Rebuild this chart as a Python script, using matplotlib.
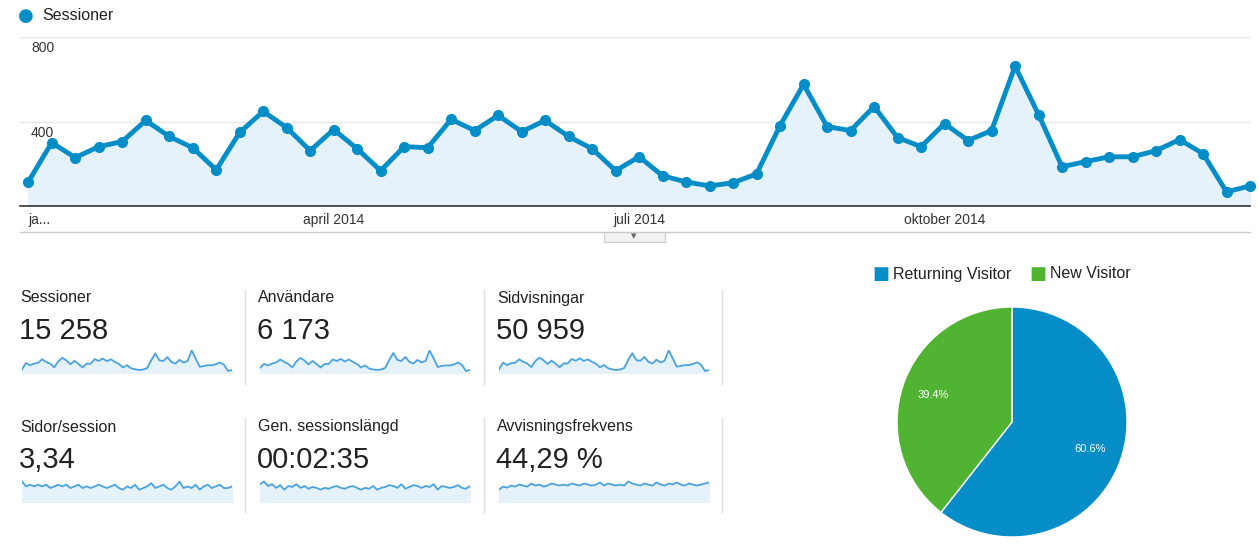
import matplotlib
matplotlib.use("Agg")
import matplotlib.pyplot as plt
from matplotlib.patches import Rectangle

plt.rcParams["font.family"] = "Liberation Sans"

sessions = [114,300,229,281,305,405,329,276,171,348,448,371,262,362,271,167,281,276,410,357,
            429,352,405,329,271,167,233,143,114,95,110,152,381,576,376,357,471,324,281,390,
            310,357,662,433,186,210,233,233,262,314,248,67,95]
tick_pos = [0, 13, 26, 39]
tick_labels = ["ja...", "april 2014", "juli 2014", "oktober 2014"]
y_ticks = [400, 800]

tile_titles = ["Sessioner", "Användare", "Sidvisningar", "Sidor/session", "Gen. sessionslängd", "Avvisningsfrekvens"]
tile_values = ["15 258", "6 173", "50 959", "3,34", "00:02:35", "44,29 %"]
users_spark = [120,200,170,210,230,290,240,200,130,250,320,270,190,260,200,130,200,200,290,260,
               300,250,290,240,200,130,170,110,90,80,90,120,280,420,280,260,340,240,210,280,
               230,260,470,310,140,160,170,170,190,230,180,60,80]
pages_spark = [400,1000,780,950,1000,1300,1080,920,600,1150,1450,1220,880,1180,900,580,930,920,1330,1170,
               1390,1150,1300,1080,900,580,780,500,400,340,380,520,1250,1850,1230,1170,1520,1070,930,1270,
               1020,1170,2100,1400,640,700,780,780,870,1030,820,250,330]
pps_spark = [3.6,3.3,3.4,3.3,3.4,3.3,3.4,3.2,3.3,3.4,3.3,3.4,3.2,3.3,3.4,3.2,3.3,3.2,3.3,3.4,
             3.3,3.2,3.3,3.4,3.2,3.1,3.3,3.2,3.4,3.1,3.2,3.3,3.5,3.2,3.3,3.4,3.2,3.1,3.3,3.6,
             3.2,3.3,3.2,3.4,3.1,3.3,3.4,3.2,3.3,3.4,3.2,3.2,3.3]
dur_spark = [160,175,150,160,140,155,130,150,145,160,140,150,135,145,140,130,140,135,145,150,
             140,135,145,150,140,130,140,135,150,130,140,145,155,150,140,160,135,145,155,150,
             140,150,145,160,130,150,145,140,145,155,140,135,150]
bounce_spark = [40,43,42,44,43,45,44,43,46,44,45,43,44,46,45,44,45,44,46,45,
                44,46,45,44,45,47,44,46,45,44,45,44,48,46,45,44,46,45,44,47,
                45,44,46,45,47,45,44,46,45,44,45,46,47]
sparks = [sessions, users_spark, pages_spark, pps_spark, dur_spark, bounce_spark]

pie_labels = ["Returning Visitor", "New Visitor"]
pie_values = [60.6, 39.4]

BLUE = "#058dc7"
GREEN = "#50b432"
W, H = 1259, 544
fig = plt.figure(figsize=(W/100, H/100), dpi=100)

def ax_px(x0, y0, x1, y1):
    return fig.add_axes([x0/W, 1-y1/H, (x1-x0)/W, (y1-y0)/H])

ax = ax_px(20, 37, 1250, 206)
xs = list(range(len(sessions)))
ax.fill_between(xs, sessions, 0, color="#e6f2fa")
ax.plot(xs, sessions, color=BLUE, lw=3.5, marker="o", ms=7, zorder=3, clip_on=False)
ax.set_xlim(-0.35, len(sessions)-1)
ax.set_ylim(0, 800)
for v in y_ticks:
    ax.axhline(v, color="#e8e8e8", lw=1, zorder=0)
    ax.text(0.009, v-20, str(v), transform=ax.get_yaxis_transform(), ha="left", va="top", fontsize=10, color="#333")
ax.set_yticks([])
ax.set_xticks(tick_pos)
ax.set_xticklabels(tick_labels, fontsize=10, color="#333")
ax.tick_params(axis="x", length=0, pad=5)
for l in ax.get_xticklabels()[:1]:
    l.set_ha("left")
for s in ["top", "right", "left"]:
    ax.spines[s].set_visible(False)
ax.spines["bottom"].set_color("#333")
ax.spines["bottom"].set_linewidth(1.2)

fig.text(18/W, 1-16/H, "●", color=BLUE, fontsize=13, va="center", family="DejaVu Sans")
fig.text(42/W, 1-16/H, "Sessioner", color="#222", fontsize=11.5, va="center")

fig.add_artist(plt.Line2D([20/W, 1250/W], [1-232/H]*2, color="#ccc", lw=1))
fig.add_artist(Rectangle((604/W, 1-242/H), 61/W, 10/H, facecolor="#f2f2f2", edgecolor="#ccc", lw=0.8))
fig.text(634/W, 1-236/H, "▼", fontsize=5, color="#666", ha="center", va="center", family="DejaVu Sans")

tx = [20, 258, 497]
ty = [298, 427]
for i in range(6):
    r, c = divmod(i, 3)
    x, y = tx[c], ty[r]
    fig.text(x/W, 1-y/H, tile_titles[i], fontsize=11.5, color="#222", va="center")
    fig.text((x-1)/W, 1-(y+33)/H, tile_values[i], fontsize=21, color="#222", va="center")
    sa = ax_px(x+2, y+52, x+212, y+75)
    d = sparks[i]
    lo = min(d) - (max(d)-min(d))*0.1 if r == 0 else min(d) - (max(d)-min(d))*1.5
    sa.fill_between(range(len(d)), d, lo, color="#e6f2fa")
    sa.plot(range(len(d)), d, color="#4aa3df", lw=1.3)
    sa.set_xlim(0, len(d)-1)
    sa.set_ylim(lo, max(d)*1.02 if r == 0 else max(d) + (max(d)-min(d))*0.3)
    sa.axis("off")
for x in [245, 484, 722]:
    for y0, y1 in [(290, 384), (418, 512)]:
        fig.add_artist(plt.Line2D([x/W]*2, [1-y0/H, 1-y1/H], color="#ddd", lw=1))

pa = ax_px(897, 307, 1127, 537)
pa.pie(pie_values, colors=[BLUE, GREEN], startangle=90, counterclock=False, radius=1,
       autopct="%.1f%%", pctdistance=0.72, textprops=dict(color="white", fontsize=8),
       wedgeprops=dict(edgecolor="white", linewidth=1))
pa.set_xlim(-1, 1)
pa.set_ylim(-1, 1)
pa.set_aspect("equal")
fig.text(872/W, 1-274/H, "■", color=BLUE, fontsize=13, va="center", family="DejaVu Sans")
fig.text(893/W, 1-274/H, pie_labels[0], color="#222", fontsize=11.5, va="center")
fig.text(1029/W, 1-274/H, "■", color=GREEN, fontsize=13, va="center", family="DejaVu Sans")
fig.text(1050/W, 1-274/H, pie_labels[1], color="#222", fontsize=11.5, va="center")

fig.savefig("out.png", dpi=100)
